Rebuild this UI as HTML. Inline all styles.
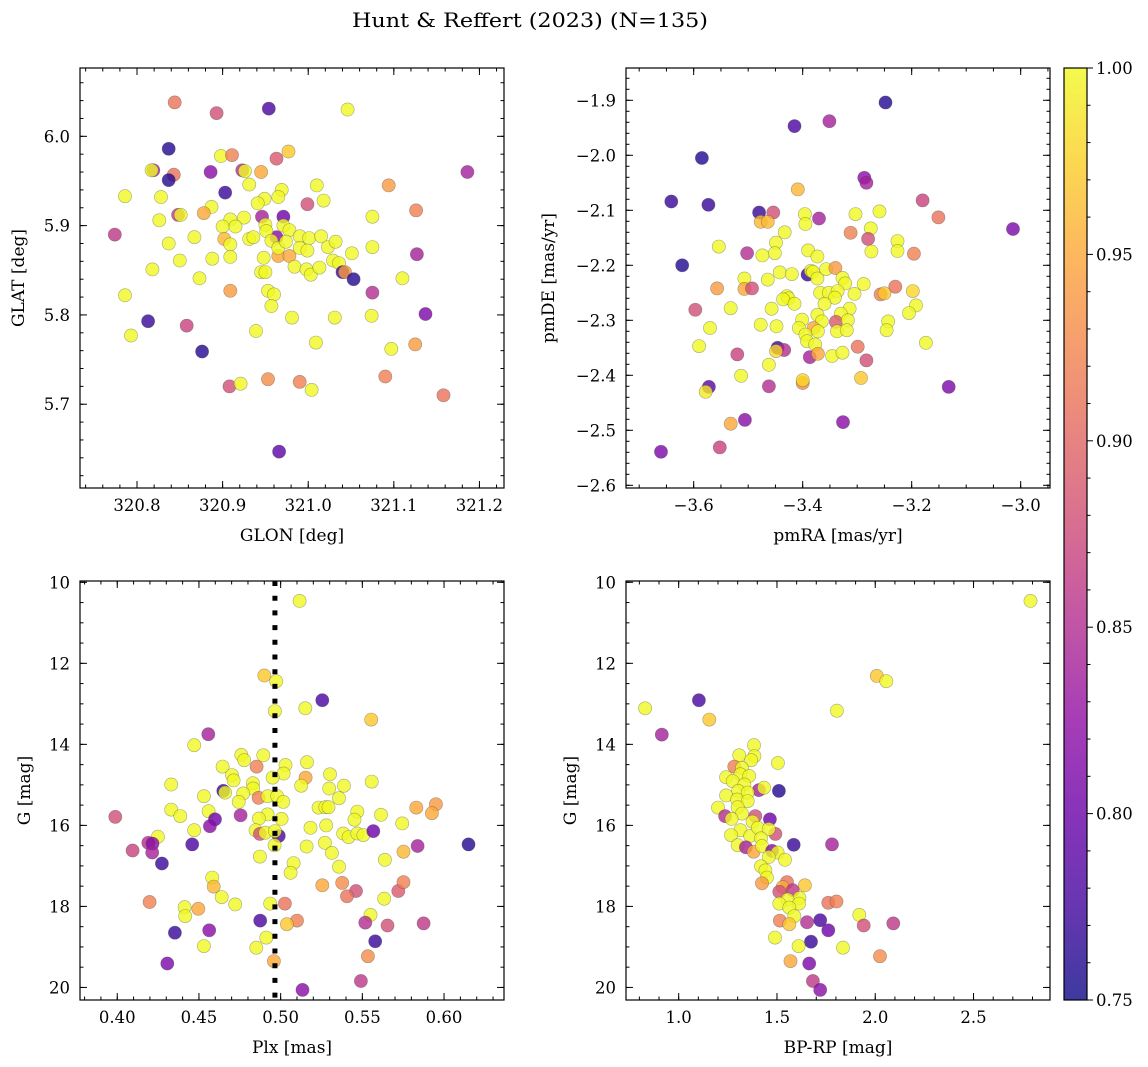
<!DOCTYPE html>
<html><head><meta charset="utf-8"><style>
html,body{margin:0;padding:0;background:#fff;}
svg{display:block;font-family:"DejaVu Serif","Liberation Serif",serif;}
</style></head><body>
<svg id="fig" width="1148" height="1067" xmlns="http://www.w3.org/2000/svg">
<rect x="0" y="0" width="1148" height="1067" fill="#fff"/>
<text x="530" y="27" text-anchor="middle" font-size="20" textLength="356" lengthAdjust="spacingAndGlyphs">Hunt &amp; Reffert (2023) (N=135)</text>
<defs>
<linearGradient id="cbg" x1="0" y1="1" x2="0" y2="0">
<stop offset="0" stop-color="#0d0887"/><stop offset="0.1" stop-color="#41049d"/><stop offset="0.2" stop-color="#6a00a8"/><stop offset="0.3" stop-color="#8f0da4"/><stop offset="0.4" stop-color="#b12a90"/><stop offset="0.5" stop-color="#cc4778"/><stop offset="0.6" stop-color="#e16462"/><stop offset="0.7" stop-color="#f2844b"/><stop offset="0.8" stop-color="#fca636"/><stop offset="0.9" stop-color="#fcce25"/><stop offset="1" stop-color="#f0f921"/>
</linearGradient>
</defs>
</svg>
<script>
// ---- Panel 1 data: GLON / GLAT ----
const p1Glon=[320.844,320.893,320.954,321.046,320.837,320.898,320.911,320.977,320.963,320.819,320.817,320.843,320.837,320.886,320.923,320.926,320.945,321.186,320.931,320.969,320.965,320.949,320.941,321.010,321.018,321.094,320.903,320.786,320.828,320.999,321.126,320.887,320.878,320.848,320.851,320.826,320.946,320.971,321.075,320.925,320.909,320.774,320.900,320.915,320.950,320.971,320.978,320.837,320.867,320.902,320.909,320.963,320.931,320.936,320.951,320.957,320.990,321.001,321.015,321.023,321.032,321.075,321.127,320.965,320.978,320.965,320.974,320.990,320.999,321.051,320.850,320.888,320.909,320.948,320.818,320.873,320.945,320.950,320.984,320.998,321.003,321.013,321.029,321.036,321.040,321.043,321.053,321.110,320.786,320.909,320.953,320.960,320.957,321.075,321.137,320.813,320.858,320.981,321.031,321.074,320.793,320.939,321.009,321.097,321.125,320.876,320.908,320.921,320.953,320.990,321.004,321.090,321.158,320.966];
const p1Glat=[6.038,6.026,6.031,6.030,5.986,5.978,5.979,5.983,5.975,5.962,5.962,5.957,5.951,5.960,5.962,5.961,5.960,5.960,5.946,5.940,5.932,5.930,5.925,5.945,5.928,5.945,5.937,5.933,5.932,5.924,5.917,5.921,5.914,5.912,5.912,5.906,5.910,5.910,5.910,5.909,5.907,5.890,5.899,5.899,5.901,5.900,5.895,5.880,5.887,5.885,5.879,5.887,5.885,5.887,5.894,5.883,5.888,5.886,5.888,5.876,5.882,5.876,5.868,5.866,5.866,5.875,5.882,5.875,5.872,5.869,5.861,5.863,5.865,5.864,5.851,5.841,5.848,5.848,5.854,5.851,5.845,5.853,5.861,5.858,5.848,5.848,5.840,5.841,5.822,5.827,5.827,5.823,5.810,5.825,5.801,5.793,5.788,5.797,5.797,5.799,5.777,5.782,5.769,5.762,5.767,5.759,5.720,5.723,5.728,5.725,5.716,5.731,5.710,5.647];
const p1Prob=[.91,.88,.78,1,.76,1,.92,.97,.89,.84,1,.91,.76,.82,.85,1,.95,.84,1,1,1,1,1,1,1,.94,.77,1,1,.88,.92,1,.95,.86,1,1,.84,.80,1,1,1,.86,1,1,1,1,1,1,1,.96,1,.82,1,1,1,1,1,1,1,1,1,1,.84,.95,.95,1,1,1,1,1,1,1,1,1,1,1,1,1,1,1,1,1,1,1,.77,.94,.76,1,1,.94,1,1,1,.85,.81,.77,.87,1,1,1,1,1,1,1,.94,.76,.88,1,.93,.92,1,.92,.91,.79];
// ---- Panel 2 data: pmRA / pmDE ----
const p2Pmra=[-3.248,-3.415,-3.351,-3.585,-3.641,-3.573,-3.287,-3.283,-3.409,-3.180,-3.151,-3.014,-3.480,-3.454,-3.477,-3.464,-3.396,-3.395,-3.370,-3.303,-3.259,-3.275,-3.312,-3.280,-3.433,-3.554,-3.449,-3.451,-3.474,-3.502,-3.390,-3.373,-3.274,-3.226,-3.226,-3.196,-3.621,-3.391,-3.385,-3.381,-3.373,-3.357,-3.340,-3.327,-3.322,-3.442,-3.420,-3.464,-3.507,-3.507,-3.493,-3.557,-3.288,-3.230,-3.257,-3.250,-3.198,-3.305,-3.368,-3.352,-3.336,-3.341,-3.360,-3.314,-3.330,-3.429,-3.426,-3.436,-3.415,-3.457,-3.532,-3.597,-3.192,-3.205,-3.373,-3.401,-3.339,-3.365,-3.317,-3.243,-3.246,-3.477,-3.448,-3.570,-3.380,-3.407,-3.372,-3.337,-3.319,-3.395,-3.392,-3.377,-3.590,-3.174,-3.299,-3.446,-3.434,-3.449,-3.520,-3.387,-3.372,-3.346,-3.327,-3.283,-3.462,-3.513,-3.400,-3.400,-3.293,-3.572,-3.578,-3.462,-3.132,-3.532,-3.506,-3.326,-3.660,-3.552];
const p2Pmde=[-1.904,-1.947,-1.938,-2.005,-2.084,-2.090,-2.041,-2.050,-2.062,-2.082,-2.113,-2.134,-2.104,-2.104,-2.121,-2.121,-2.107,-2.125,-2.115,-2.107,-2.102,-2.133,-2.141,-2.152,-2.140,-2.166,-2.159,-2.178,-2.182,-2.178,-2.173,-2.184,-2.175,-2.156,-2.174,-2.179,-2.200,-2.217,-2.210,-2.212,-2.224,-2.207,-2.205,-2.223,-2.233,-2.213,-2.216,-2.226,-2.224,-2.243,-2.242,-2.242,-2.234,-2.239,-2.253,-2.251,-2.247,-2.252,-2.250,-2.250,-2.247,-2.259,-2.270,-2.279,-2.288,-2.256,-2.260,-2.262,-2.270,-2.279,-2.278,-2.281,-2.273,-2.287,-2.290,-2.299,-2.303,-2.302,-2.300,-2.302,-2.318,-2.308,-2.311,-2.314,-2.314,-2.314,-2.320,-2.320,-2.318,-2.326,-2.338,-2.344,-2.347,-2.341,-2.348,-2.350,-2.354,-2.356,-2.362,-2.367,-2.361,-2.365,-2.359,-2.373,-2.381,-2.401,-2.414,-2.409,-2.405,-2.421,-2.430,-2.420,-2.421,-2.488,-2.481,-2.485,-2.539,-2.531];
const p2Prob=[.76,.78,.84,.76,.77,.77,.82,.84,.96,.87,.91,.81,.77,.88,.96,.96,1,1,.84,1,1,1,.92,.88,1,1,1,1,1,.85,1,1,1,1,1,.92,.76,.77,1,1,1,1,.94,1,1,1,1,1,1,.95,.88,.94,1,.91,.92,.97,.98,1,1,1,1,1,1,1,1,1,1,1,1,1,1,.88,1,1,1,1,.89,1,1,1,1,1,1,1,.95,1,1,1,1,1,1,1,1,1,.91,.77,.85,.98,.87,.84,.95,1,1,.88,1,1,.93,.98,.97,.79,.99,.85,.81,.95,.82,.82,.81,.87];
// ---- Panel 3 data: Plx / G ----
const p3Plx=[0.5116,0.490,0.4973,0.5255,0.4965,0.5151,0.5554,0.4557,0.4471,0.4759,0.4777,0.4894,0.4853,0.4645,0.5030,0.5161,0.5018,0.4951,0.4702,0.4712,0.5153,0.5126,0.5302,0.4330,0.4830,0.4832,0.5297,0.5387,0.5557,0.4649,0.4660,0.4771,0.4530,0.4865,0.4920,0.4979,0.5016,0.4743,0.5357,0.5232,0.5273,0.5293,0.3988,0.4330,0.4386,0.4559,0.4755,0.4920,0.4867,0.5006,0.5469,0.5452,0.5614,0.5830,0.5950,0.5926,0.5744,0.4598,0.4567,0.4471,0.4249,0.4847,0.4873,0.4906,0.4989,0.4965,0.5183,0.5279,0.5383,0.5416,0.5469,0.5506,0.5567,0.4190,0.4216,0.4214,0.4094,0.4459,0.4273,0.4963,0.5159,0.5271,0.5314,0.5838,0.6150,0.5752,0.5638,0.4873,0.5079,0.5061,0.5357,0.4581,0.4590,0.5255,0.5377,0.5461,0.5406,0.5720,0.5752,0.4639,0.5634,0.4198,0.4412,0.4416,0.4496,0.4722,0.4936,0.5026,0.5100,0.5038,0.4875,0.5550,0.5518,0.5654,0.5875,0.4353,0.4563,0.4912,0.4851,0.4530,0.5579,0.4306,0.4959,0.5534,0.5491,0.5134];
const p3G=[10.46,12.30,12.44,12.91,13.18,13.11,13.39,13.75,14.02,14.26,14.39,14.27,14.55,14.55,14.51,14.44,14.72,14.82,14.76,14.89,14.82,15.02,14.74,14.99,14.96,15.09,15.09,15.02,14.92,15.15,15.19,15.21,15.28,15.32,15.28,15.28,15.42,15.42,15.33,15.56,15.55,15.55,15.79,15.61,15.77,15.65,15.75,15.73,15.83,15.84,15.66,15.86,15.74,15.56,15.48,15.70,15.95,15.85,16.02,16.12,16.28,16.12,16.21,16.18,16.26,16.14,16.06,16.00,16.20,16.29,16.20,16.24,16.14,16.43,16.45,16.67,16.62,16.47,16.94,16.49,16.52,16.43,16.68,16.51,16.47,16.65,16.85,16.77,16.93,17.17,17.02,17.29,17.51,17.48,17.42,17.62,17.75,17.62,17.40,17.77,17.81,17.89,18.02,18.24,18.06,17.95,17.93,17.93,18.35,18.44,18.35,18.21,18.40,18.47,18.42,18.65,18.59,18.77,19.02,18.98,18.86,19.41,19.35,19.23,19.84,20.06];
const p3Prob=[1,.97,1,.78,1,1,.97,.84,1,1,1,1,.92,1,1,1,1,1,1,1,.95,1,1,1,1,1,1,1,1,.77,1,1,1,.92,1,1,1,1,1,1,1,1,.88,1,1,1,.84,1,1,1,1,1,1,.95,.94,.95,1,.80,.82,1,1,1,.88,1,.78,1,1,1,1,1,1,1,.80,.85,.82,.84,.87,.78,.77,1,1,1,1,.84,.76,.96,1,1,1,1,1,1,.96,.95,.93,.88,.91,.89,.92,1,1,.92,1,1,.95,1,1,.91,.92,.97,.78,1,.85,.88,.86,.77,.82,1,1,1,.77,.81,.95,.93,.86,.82];
// ---- Panel 4 data: BP-RP / G ----
const p4Bprp=[2.790,2.008,2.056,1.103,0.829,1.156,1.805,0.914,1.383,1.308,1.385,1.369,1.505,1.283,1.322,1.241,1.314,1.359,1.275,1.334,1.303,1.408,1.434,1.510,1.351,1.241,1.297,1.351,1.200,1.300,1.322,1.236,1.269,1.390,1.376,1.464,1.314,1.266,1.364,1.403,1.492,1.458,1.419,1.585,1.780,1.300,1.342,1.381,1.424,1.475,1.503,1.458,1.541,1.419,1.441,1.449,1.424,1.551,1.642,1.529,1.512,1.580,1.614,1.554,1.512,1.612,1.563,1.761,1.803,1.588,1.515,1.563,1.653,1.720,1.919,1.941,2.092,1.761,1.490,1.673,1.610,1.836,2.024,1.569,1.664,1.683,1.720];
const p4G=[10.46,12.31,12.44,12.91,13.11,13.39,13.17,13.76,14.02,14.27,14.29,14.39,14.46,14.55,14.58,14.81,14.74,14.78,14.91,14.99,15.15,15.13,15.07,15.15,15.19,15.26,15.36,15.40,15.56,15.55,15.71,15.77,15.84,15.77,15.91,15.85,16.12,16.24,16.26,16.06,16.21,16.09,16.32,16.48,16.47,16.49,16.54,16.65,16.51,16.63,16.67,16.78,16.85,17.01,17.11,17.29,17.43,17.40,17.48,17.52,17.64,17.60,17.79,17.83,17.93,17.93,18.03,17.91,17.88,18.24,18.35,18.44,18.39,18.34,18.21,18.47,18.42,18.59,18.77,18.87,18.98,19.02,19.23,19.35,19.41,19.84,20.06];
const p4Prob=[1,.97,1,.78,1,.97,1,.84,1,1,1,1,1,.92,1,1,1,1,1,1,1,.84,1,.76,1,1,1,1,1,1,1,.85,1,.88,1,.80,1,1,1,1,.88,1,1,.77,.84,1,.84,.95,1,.82,1,1,1,1,1,1,.94,.91,.97,.95,.88,.86,1,1,1,1,1,.91,.92,1,.92,.97,.85,.78,1,.88,.86,.80,1,.77,1,1,.93,.95,.81,.86,.82];
// ---- tick labels ----
const p1XTicks=[320.8,320.9,321.0,321.1,321.2];
const p1YTicks=[5.7,5.8,5.9,6.0];
const p2XTicks=[-3.6,-3.4,-3.2,-3.0];
const p2YTicks=[-2.6,-2.5,-2.4,-2.3,-2.2,-2.1,-2.0,-1.9];
const p3XTicks=[0.40,0.45,0.50,0.55,0.60];
const gTicks=[10,12,14,16,18,20];
const p4XTicks=[1.0,1.5,2.0,2.5];
const cbTicks=[0.75,0.80,0.85,0.90,0.95,1.00];
const plxLine=[0.4965];

const NS="http://www.w3.org/2000/svg";
const svg=document.getElementById('fig');
function mk(tag,attrs,parent){const e=document.createElementNS(NS,tag);for(const k in attrs)e.setAttribute(k,attrs[k]);(parent||svg).appendChild(e);return e;}
const stops=['#0d0887','#41049d','#6a00a8','#8f0da4','#b12a90','#cc4778','#e16462','#f2844b','#fca636','#fcce25','#f0f921'];
function hex(h){return [parseInt(h.substr(1,2),16),parseInt(h.substr(3,2),16),parseInt(h.substr(5,2),16)];}
function plasma(v){let t=(v-0.75)/0.25;t=Math.max(0,Math.min(1,t));const f=t*10;const i=Math.min(9,Math.floor(f));const r=f-i;const a=hex(stops[i]),b=hex(stops[i+1]);return 'rgb('+a.map((c,k)=>Math.round(c+(b[k]-c)*r)).join(',')+')';}
function fmt(v,d){const s=Math.abs(v).toFixed(d);return (v<0?'\u2212':'')+s;}

function panel(o){
  const g=mk('g',{});
  
  
  const sx=v=>o.x0+(v-o.xd[0])/(o.xd[1]-o.xd[0])*(o.x1-o.x0);
  const sy=v=>o.y0+(v-o.yd[0])/(o.yd[1]-o.yd[0])*(o.y1-o.y0);
  // points
  for(let i=0;i<o.xs.length;i++){
    const c=mk('circle',{cx:sx(o.xs[i]).toFixed(1),cy:sy(o.ys[i]).toFixed(1),r:6.6,fill:plasma(o.cs[i]),'fill-opacity':0.8,stroke:'#444','stroke-opacity':0.45,'stroke-width':0.6},g);
    
    
  }
  if(o.vline){for(const v of o.vline){const l=mk('line',{x1:sx(v),x2:sx(v),y1:o.y0,y2:o.y1,stroke:'#000','stroke-width':5,'stroke-dasharray':'5 9.7'},g);
    
    }}
  // frame
  const fr=mk('rect',{x:o.x0,y:o.y0,width:o.x1-o.x0,height:o.y1-o.y0,fill:'none',stroke:'#000','stroke-width':1.2},g);
  
  
  // ticks
  function xt(v,len){const x=sx(v);if(x<o.x0-0.5||x>o.x1+0.5)return;mk('line',{x1:x,x2:x,y1:o.y1,y2:o.y1-len,stroke:'#000','stroke-width':1},g);mk('line',{x1:x,x2:x,y1:o.y0,y2:o.y0+len,stroke:'#000','stroke-width':1},g);}
  function yt(v,len){const y=sy(v);if(y<Math.min(o.y0,o.y1)-0.5||y>Math.max(o.y0,o.y1)+0.5)return;mk('line',{x1:o.x0,x2:o.x0+len,y1:y,y2:y,stroke:'#000','stroke-width':1},g);mk('line',{x1:o.x1,x2:o.x1-len,y1:y,y2:y,stroke:'#000','stroke-width':1},g);}
  const lo=Math.min(...o.xd),hi=Math.max(...o.xd);
  for(let k=Math.ceil(lo/o.xm-1e-6);k*o.xm<=hi+1e-9;k++)xt(k*o.xm,3.5);
  const ylo=Math.min(...o.yd),yhi=Math.max(...o.yd);
  for(let k=Math.ceil(ylo/o.ym-1e-6);k*o.ym<=yhi+1e-9;k++)yt(k*o.ym,3.5);
  for(const v of o.xt){xt(v,7);const t=mk('text',{x:sx(v),y:o.y1+23,'text-anchor':'middle','font-size':16.5},g);t.textContent=fmt(v,o.xdp);
    
    }
  for(const v of o.yt){yt(v,7);const t=mk('text',{x:o.x0-10,y:sy(v)+6,'text-anchor':'end','font-size':16.5},g);t.textContent=fmt(v,o.ydp);
    
    }
  const xl=mk('text',{x:(o.x0+o.x1)/2,y:o.y1+53,'text-anchor':'middle','font-size':17},g);xl.textContent=o.xl;
  
  
  const cy=(o.y0+o.y1)/2;
  const yl=mk('text',{x:o.ylx,y:cy,'text-anchor':'middle','font-size':17,transform:'rotate(-90 '+o.ylx+' '+cy+')'},g);yl.textContent=o.yl;
  
  
}
panel({name:'sky-position-panel',x0:80,x1:504,y0:68,y1:488,xd:[320.7334,321.2287],yd:[6.0765,5.6062],xs:p1Glon,ys:p1Glat,cs:p1Prob,xt:p1XTicks,yt:p1YTicks,xdp:1,ydp:1,xm:0.02,ym:0.02,xl:'GLON [deg]',yl:'GLAT [deg]',ylx:24});
panel({name:'proper-motion-panel',x0:626,x1:1050,y0:68,y1:488,xd:[-3.7242,-2.9462],yd:[-1.8413,-2.6049],xs:p2Pmra,ys:p2Pmde,cs:p2Prob,xt:p2XTicks,yt:p2YTicks,xdp:1,ydp:1,xm:0.05,ym:0.02,xl:'pmRA [mas/yr]',yl:'pmDE [mas/yr]',ylx:554});
panel({name:'parallax-magnitude-panel',x0:80,x1:504,y0:581,y1:1000,xd:[0.3772,0.6367],yd:[9.968,20.31],xs:p3Plx,ys:p3G,cs:p3Prob,xt:p3XTicks,yt:gTicks,xdp:2,ydp:0,xm:0.01,ym:0.5,xl:'Plx [mas]',yl:'G [mag]',ylx:30,vline:plxLine});
panel({name:'color-magnitude-panel',x0:626,x1:1050,y0:581,y1:1000,xd:[0.732,2.889],yd:[9.968,20.31],xs:p4Bprp,ys:p4G,cs:p4Prob,xt:p4XTicks,yt:gTicks,xdp:1,ydp:0,xm:0.1,ym:0.5,xl:'BP-RP [mag]',yl:'G [mag]',ylx:576});

// colorbar
const cb=mk('g',{});


const cbx0=1064,cbx1=1087,cby0=68,cby1=1000;
const cbs=v=>cby1-(v-0.75)/0.25*(cby1-cby0);
mk('rect',{x:cbx0,y:cby0,width:cbx1-cbx0,height:cby1-cby0,fill:'url(#cbg)','fill-opacity':0.8},cb);
mk('rect',{x:cbx0,y:cby0,width:cbx1-cbx0,height:cby1-cby0,fill:'none',stroke:'#000','stroke-width':1.2},cb);
for(let k=75;k<=100;k++){const y=cbs(k/100);mk('line',{x1:cbx1,x2:cbx1+(k%5===0?6:3.5),y1:y,y2:y,stroke:'#000','stroke-width':1},cb);}
for(const v of cbTicks){const t=mk('text',{x:1096,y:cbs(v)+6,'font-size':16.5},cb);t.textContent=v.toFixed(2);
  
  }
</script>
</body></html>
